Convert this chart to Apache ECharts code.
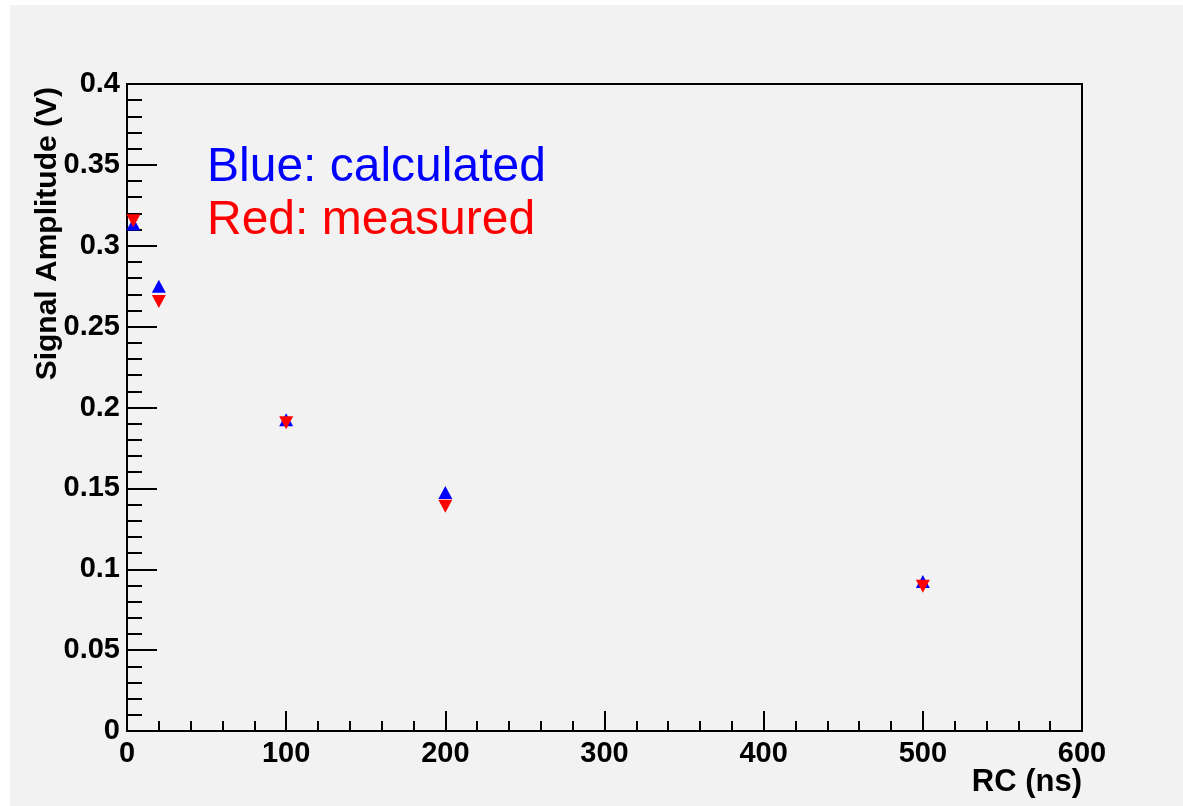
<!DOCTYPE html>
<html>
<head>
<meta charset="utf-8">
<title>Signal Amplitude vs RC</title>
<script src="https://cdn.jsdelivr.net/npm/echarts@6/dist/echarts.min.js"></script>
<style>
    html, body { margin: 0; padding: 0; background: #ffffff; }
    #chart_main { position: absolute; left: 10px; top: 5px; width: 1173px; height: 801px; }
</style>
</head>
<body>
<div id="chart_main"></div>
<script>
// RC values (ns)
var rcValues = [4, 20, 100, 200, 500];
// calculated amplitude (V) - blue
var calcValues = [0.3135, 0.275, 0.1925, 0.1475, 0.0925];
// measured amplitude (V) - red
var measValues = [0.3155, 0.2655, 0.1905, 0.139, 0.0895];
// axis ranges
var xRange = [0, 600, 100];
var yRange = [0, 0.4, 0.05];

var labelFont = 'Liberation Sans, Arial, sans-serif';

function toPoints(xs, ys){
    var list = [];
    for(var i = 0; i < xs.length; i++){
        list.push([xs[i], ys[i]]);
    }
    return list;
}

function chart_display(){
    var mainChart = echarts.init(document.getElementById("chart_main"));
    var option = {
        backgroundColor: '#f2f2f2',
        animation: false,
        grid: {
            left: 117,
            top: 79,
            right: 101,
            bottom: 75,
            show: true,
            borderColor: '#000',
            borderWidth: 2
        },
        xAxis: {
            type: 'value',
            min: xRange[0],
            max: xRange[1],
            interval: xRange[2],
            axisLine: { show: true, onZero: false, lineStyle: { color: '#000', width: 2 } },
            axisTick: { show: true, inside: true, length: 20, lineStyle: { color: '#000', width: 2 } },
            minorTick: { show: true, splitNumber: 5, length: 10, lineStyle: { color: '#000', width: 2 } },
            splitLine: { show: false },
            axisLabel: {
                margin: 8,
                color: '#000',
                fontSize: 29,
                fontWeight: 'bold',
                fontFamily: labelFont
            }
        },
        yAxis: {
            type: 'value',
            min: yRange[0],
            max: yRange[1],
            interval: yRange[2],
            axisLine: { show: true, onZero: false, lineStyle: { color: '#000', width: 2 } },
            axisTick: { show: true, inside: true, length: 30, lineStyle: { color: '#000', width: 2 } },
            minorTick: { show: true, splitNumber: 5, length: 15, lineStyle: { color: '#000', width: 2 } },
            splitLine: { show: false },
            axisLabel: {
                margin: 7,
                color: '#000',
                fontSize: 29,
                fontWeight: 'bold',
                fontFamily: labelFont
            }
        },
        series: [
            {
                name: 'calculated',
                type: 'scatter',
                symbol: 'triangle',
                symbolSize: [14, 13],
                itemStyle: { color: '#0000ff', opacity: 1 },
                data: toPoints(rcValues, calcValues)
            },
            {
                name: 'measured',
                type: 'scatter',
                symbol: 'triangle',
                symbolRotate: 180,
                symbolSize: [14, 13],
                itemStyle: { color: '#ff0000', opacity: 1 },
                data: toPoints(rcValues, measValues)
            }
        ],
        graphic: [
            {
                type: 'text',
                x: 197,
                y: 139,
                style: { text: 'Blue: calculated', fill: '#0000ff', font: '48px ' + labelFont, verticalAlign: 'top' }
            },
            {
                type: 'text',
                x: 197,
                y: 192,
                style: { text: 'Red: measured', fill: '#ff0000', font: '48px ' + labelFont, verticalAlign: 'top' }
            },
            {
                // y axis title, reads bottom to top
                type: 'text',
                x: 38,
                y: 82,
                rotation: Math.PI / 2,
                style: { text: 'Signal Amplitude (V)', fill: '#000', font: 'bold 30px ' + labelFont, align: 'right', verticalAlign: 'middle' }
            },
            {
                type: 'text',
                x: 1072,
                y: 777,
                style: { text: 'RC (ns)', fill: '#000', font: 'bold 31px ' + labelFont, align: 'right', verticalAlign: 'middle' }
            }
        ]
    };
    mainChart.setOption(option);
}

chart_display();
</script>
</body>
</html>
